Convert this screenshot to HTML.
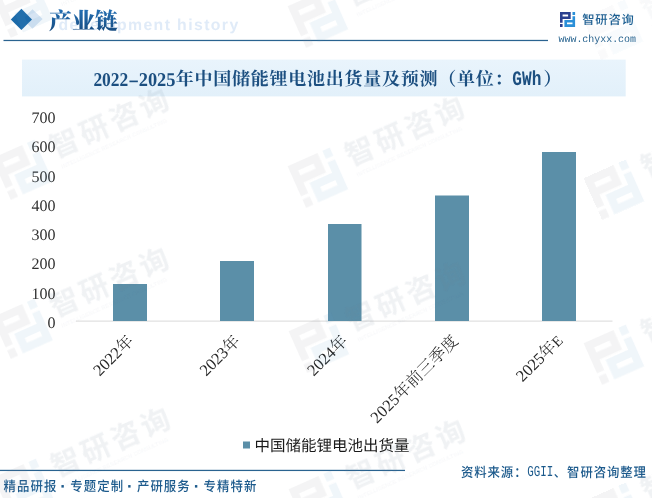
<!DOCTYPE html>
<html lang="zh-CN">
<head>
<meta charset="utf-8">
<title>产业链</title>
<style>
html,body{margin:0;padding:0;background:#fff;}
body{width:652px;height:498px;overflow:hidden;position:relative;}
svg{display:block;position:absolute;left:0;top:0;will-change:transform;}
svg text{text-rendering:geometricPrecision;}
.serif{font-family:"Liberation Serif","Noto Serif CJK SC",serif;}
.sans{font-family:"Liberation Sans","Noto Sans CJK SC",sans-serif;}
.mono{font-family:"Liberation Mono","Noto Sans CJK SC",monospace;}
</style>
</head>
<body>
<svg width="652" height="498" viewBox="0 0 652 498">
  <defs>
    <filter id="wblur" x="0" y="0" width="652" height="498" filterUnits="userSpaceOnUse"><feGaussianBlur stdDeviation="0.55"/></filter>
    <linearGradient id="bandg" x1="0" y1="0" x2="0" y2="1">
      <stop offset="0" stop-color="#e9f4fc"/><stop offset="1" stop-color="#e2f0fa"/>
    </linearGradient>
    <linearGradient id="ttlg" x1="0" y1="0" x2="0" y2="1">
      <stop offset="0" stop-color="#2470b5"/><stop offset="1" stop-color="#17497c"/>
    </linearGradient>
    <!-- logo mark in a 15.1 x 14.9 box -->
    <path id="markA" fill-rule="evenodd" d="M0,0H10.7V7H2.6V10.7H0Z M2.6,2.6H8.1V4.4H2.6Z M0,12H2.6V14.9H0Z"/>
    <path id="markB" fill-rule="evenodd" d="M15.1,14.9H4.4V7.9H12.5V4.2H15.1Z M12.5,12.3H7V10.5H12.5Z M15.1,2.9H12.5V0H15.1Z"/>
    <g id="wm">
      <g transform="translate(-23,-23) scale(3.05)">
        <use href="#markA" fill="#858b99" fill-opacity="0.095"/><use href="#markB" fill="#5c9bc6" fill-opacity="0.095"/>
      </g>
      <text x="34.5" y="2.8" font-size="29" letter-spacing="3.7" class="sans" font-weight="bold" fill="#6f7f95" fill-opacity="0.1">智研咨询</text>
      <text x="37" y="14.5" font-size="5.4" letter-spacing="0.25" class="sans" fill="#6f7f95" fill-opacity="0.07">INTELLIGENCE RESEARCH CONSULTING</text>
    </g>
  </defs>

  <!-- header -->
  <text x="58.5" y="30.3" font-size="15.8" letter-spacing="1.4" font-weight="bold" fill="#e0ebf8" class="sans">development history</text>
  <polygon points="32.5,9.3 42.6,19 32.5,28.7 22.4,19" fill="#d6e4f3"/>
  <polygon points="21.4,8.8 32,19.4 21.4,30 10.8,19.4" fill="#1c6aa9"/>
  <text x="49" y="28.6" font-size="23" font-weight="900" fill="url(#ttlg)" class="serif">产业链</text>
  <rect x="3.5" y="39.85" width="544.5" height="1.25" fill="#2a6390"/>

  <!-- logo -->
  <g id="logo">
    <g transform="translate(560,12)">
      <use href="#markA" fill="#2a3f8f"/>
      <use href="#markB" fill="#2a8fd8"/>
    </g>
    <text x="582.3" y="24.2" font-size="12.3" letter-spacing="0.75" fill="#1c5f92" class="sans" font-weight="500">智研咨询</text>
    <text x="558.5" y="42" font-size="10.4" fill="#2a6590" class="mono" textLength="77.5" lengthAdjust="spacingAndGlyphs">www.chyxx.com</text>
  </g>

  <!-- title band -->
  <rect x="22" y="59.6" width="603.7" height="36.8" fill="url(#bandg)"/>
  <g font-weight="bold" fill="#1c4f80">
    <g font-size="19.6" class="serif">
      <text x="93.4" y="85.8" textLength="34.9" lengthAdjust="spacingAndGlyphs">2022</text>
      <text x="128.2" y="85.8" textLength="10.8" lengthAdjust="spacingAndGlyphs">-</text>
      <text x="138.7" y="85.8" textLength="36.8" lengthAdjust="spacingAndGlyphs">2025</text>
    </g>
    <text x="175.8" y="84.6" font-size="18" letter-spacing="0.75" class="serif">年中国储能锂电池出货量及预测（单位：</text>
    <text x="512.3" y="84.8" font-size="20.5" class="mono" textLength="29" lengthAdjust="spacingAndGlyphs">GWh</text>
    <text x="543.5" y="84.6" font-size="18" class="serif">）</text>
  </g>

  <!-- y axis labels -->
  <g font-size="16" fill="#303030" class="serif" text-anchor="end">
    <text x="55.5" y="123">700</text>
    <text x="55.5" y="152.3">600</text>
    <text x="55.5" y="181.6">500</text>
    <text x="55.5" y="210.9">400</text>
    <text x="55.5" y="240.1">300</text>
    <text x="55.5" y="269.4">200</text>
    <text x="55.5" y="298.7">100</text>
    <text x="55.5" y="328">0</text>
  </g>
  <rect x="76" y="320.6" width="536.5" height="1" fill="#d9d9d9"/>

  <!-- bars -->
  <g fill="#5b8fa8">
    <rect x="113" y="284" width="34" height="37"/>
    <rect x="220" y="261" width="34" height="60"/>
    <rect x="328" y="224" width="33.5" height="97"/>
    <rect x="435" y="195.5" width="34" height="125.5"/>
    <rect x="542" y="152" width="34" height="169"/>
  </g>

  <!-- x labels -->
  <g font-size="16.4" fill="#262626" class="serif" text-anchor="end" font-weight="300">
    <text transform="translate(134.5,342) rotate(-45)">2022年</text>
    <text transform="translate(241,342) rotate(-45)">2023年</text>
    <text transform="translate(348.5,342) rotate(-45)">2024年</text>
    <text transform="translate(459.2,341.8) rotate(-45)" letter-spacing="0.15">2025年前三季度</text>
    <text transform="translate(563.6,341.6) rotate(-45)">2025年<tspan font-size="14.4">E</tspan></text>
  </g>

  <!-- legend -->
  <rect x="243" y="441.5" width="7" height="7" fill="#5b8fa8"/>
  <text x="254.5" y="451.3" font-size="15.5" fill="#1a1a1a" class="sans">中国储能锂电池出货量</text>

  <!-- footer -->
  <rect x="0" y="469.8" width="405" height="1.25" fill="#2a6390"/>
  <g font-size="12.4" fill="#1c5a8c" class="sans" font-weight="500" letter-spacing="1.1" transform="translate(0,490.7) scale(1,1.1)">
    <text x="3.5" y="0">精品研报</text>
    <text x="70.2" y="0">专题定制</text>
    <text x="136.9" y="0">产研服务</text>
    <text x="203.6" y="0">专精特新</text>
  </g>
  <g font-size="17" fill="#1c5a8c" class="sans" font-weight="bold" text-anchor="middle" letter-spacing="0">
    <text x="63.1" y="491.5">·</text>
    <text x="129.8" y="491.5">·</text>
    <text x="196.5" y="491.5">·</text>
  </g>
  <g fill="#1c5a8c" font-weight="500" transform="translate(0,476.7) scale(1,1.08)">
    <text x="461" y="0" font-size="12.4" letter-spacing="0.9" class="sans">资料来源：</text>
    <text x="527.2" y="-0.2" font-size="14" class="mono" font-weight="normal" textLength="26" lengthAdjust="spacingAndGlyphs">GGII</text>
    <text x="553.8" y="0" font-size="12.4" letter-spacing="0.9" class="sans">、智研咨询整理</text>
  </g>
  <!-- watermarks -->
  <g id="watermarks" filter="url(#wblur)">
    <use href="#wm" transform="translate(22.6,8) rotate(-24)"/>
    <use href="#wm" transform="translate(318,18) rotate(-24)"/>
    <use href="#wm" transform="translate(613,30) rotate(-24)" opacity="0.45"/>
    <use href="#wm" transform="translate(22.6,170) rotate(-24)"/>
    <use href="#wm" transform="translate(318,178) rotate(-24)"/>
    <use href="#wm" transform="translate(614,190) rotate(-24)"/>
    <use href="#wm" transform="translate(22.6,329) rotate(-24)"/>
    <use href="#wm" transform="translate(319,343) rotate(-24)"/>
    <use href="#wm" transform="translate(614,355) rotate(-24)"/>
    <use href="#wm" transform="translate(24,489) rotate(-24)"/>
    <use href="#wm" transform="translate(319,501) rotate(-24)"/>
    <use href="#wm" transform="translate(614,513) rotate(-24)"/>
  </g>

</svg>
</body>
</html>
